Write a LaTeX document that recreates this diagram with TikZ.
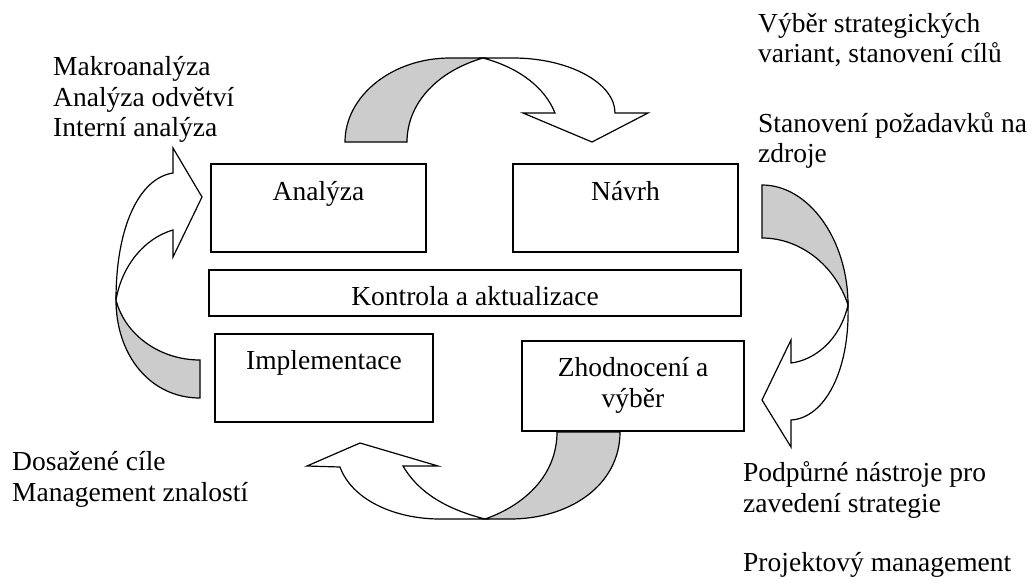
\documentclass[tikz,border=0pt]{standalone}
\usepackage{fontspec}
\setmainfont{Liberation Serif}
\begin{document}
\begin{tikzpicture}[x=1pt,y=-1pt,
  box/.style={draw,line width=1.2pt,inner sep=0pt},
  txt/.style={font=\fontsize{27.5}{31}\selectfont,inner sep=0pt,anchor=base west},
  ctxt/.style={font=\fontsize{27.5}{31}\selectfont,inner sep=0pt,anchor=base},
  backband/.style={draw,line width=1.2pt,fill=black!20,line join=miter},
  frontband/.style={draw,line width=1.2pt,fill=white,line join=miter}]
\useasboundingbox (0,0) rectangle (1036,582);

% boxes
\node[box,minimum width=215pt,minimum height=88pt] (ana) at (318.5,208) {};
\node[box,minimum width=225pt,minimum height=88pt] (nav) at (625.5,208) {};
\node[box,minimum width=532pt,minimum height=46pt] (kon) at (475,293) {};
\node[box,minimum width=218pt,minimum height=88pt] (imp) at (324,378) {};
\node[box,minimum width=222pt,minimum height=90pt] (zho) at (633,386) {};

\node[ctxt] (tana) at (318.5,200) {Analýza};
\node[ctxt] (tnav) at (625.5,200) {Návrh};
\node[ctxt] (tkon) at (475,305) {Kontrola a aktualizace};
\node[ctxt] (timp) at (324,369) {Implementace};
\node[ctxt] (tzho1) at (633,376) {Zhodnocení a};
\node[ctxt] (tzho2) at (633,407) {výběr};

% top arrow
\draw[backband] (345,142) .. controls (345,96) and (392,58) .. (450,58) -- (483,58)
  .. controls (435,72) and (407,105) .. (407,142) -- cycle;
\draw[frontband] (483,58) -- (513,58) .. controls (569,58) and (615,83) .. (615,113)
  -- (648,113) -- (592,142) -- (523,113) -- (555,113)
  .. controls (545,88) and (520,68) .. (483,58) -- cycle;

% right arrow
\draw[backband] (762,185) .. controls (809,185) and (848,240) .. (848,305)
  .. controls (835,265) and (800,238) .. (762,238) -- cycle;
\draw[frontband] (848,305) .. controls (850,370) and (825,418) .. (791,420)
  -- (791,447) -- (762,400) -- (791,340) -- (791,363)
  .. controls (815,360) and (840,340) .. (848,305) -- cycle;

% bottom arrow
\draw[backband] (620,432) .. controls (620,485) and (570,519) .. (510,519) -- (485,519)
  .. controls (525,505) and (557,475) .. (557,432) -- cycle;
\draw[frontband] (485,519) -- (440,519) .. controls (395,519) and (352,500) .. (340,467)
  -- (307,466) -- (360,443) -- (438,466) -- (403,466)
  .. controls (420,495) and (450,510) .. (485,519) -- cycle;

% left arrow
\draw[backband] (200,398) .. controls (150,398) and (116,355) .. (116,300)
  .. controls (125,335) and (160,360) .. (200,360) -- cycle;
\draw[frontband] (116,300) .. controls (116,225) and (140,178) .. (173,173)
  -- (173,148) -- (202,197) -- (173,257) -- (173,230)
  .. controls (145,238) and (122,265) .. (116,300) -- cycle;

% side texts
\node[txt] (l1) at (53,75) {Makroanalýza};
\node[txt] (l2) at (53,106) {Analýza odvětví};
\node[txt] (l3) at (53,136) {Interní analýza};

\node[txt] (r1) at (758,32) {Výběr strategických};
\node[txt] (r2) at (758,62) {variant, stanovení cílů};
\node[txt] (r3) at (758,132) {Stanovení požadavků na};
\node[txt] (r4) at (758,162) {zdroje};

\node[txt] (b1) at (743,481) {Podpůrné nástroje pro};
\node[txt] (b2) at (743,512) {zavedení strategie};
\node[txt] (b3) at (743,571) {Projektový management};

\node[txt] (d1) at (12,470) {Dosažené cíle};
\node[txt] (d2) at (12,501) {Management znalostí};
\end{tikzpicture}
\end{document}
